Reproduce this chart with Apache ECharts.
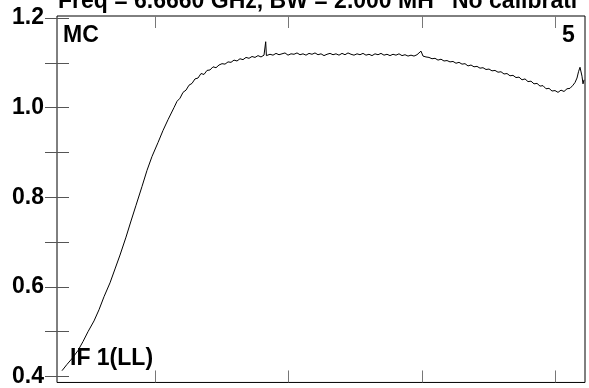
<!DOCTYPE html>
<html><head><meta charset="utf-8">
<script src="https://cdn.jsdelivr.net/npm/echarts@6/dist/echarts.min.js"></script>
<style>html,body{margin:0;padding:0;background:#fff}#c{width:589px;height:388px}</style>
</head><body><div id="c"></div>
<script>
const titleText = "Freq = 6.6660 GHz, BW = 2.000 MH";
const titleText2 = "No calibrati";
const labelTopLeft = "MC";
const labelTopRight = "5";
const labelBottom = "IF 1(LL)";
const yLabelValues = [0.4, 0.6, 0.8, 1.0, 1.2];
const yTickValues = [0.4, 0.5, 0.6, 0.7, 0.8, 0.9, 1.0, 1.1, 1.2];
const xTickValues = [98, 231, 365, 498];

const channels = [
  5,10,15,21,26,31,37,42,47,53,58,63,69,74,79,85,90,95,101,106,111,
  117,120,123,126,129,132,135,138,141,144,147,150,153,156,159,162,165,168,171,174,177,180,183,186,189,192,195,198,201,204,207,
  208,208.7,209.4,213,
  216,219,222,225,228,231,234,237,240,243,246,249,252,255,258,261,264,267,270,273,276,279,282,285,288,291,294,297,300,303,306,309,312,315,318,321,324,327,330,333,336,339,342,345,348,351,354,357,360,
  362,364,366,369,
  372,375,378,381,384,387,390,393,396,399,402,405,408,411,414,417,420,423,426,429,432,435,438,441,444,447,450,453,456,459,462,465,468,471,474,477,480,483,486,489,492,495,498,501,504,507,510,513,516,
  518,520,521.5,523,524,525,526,527
];
const amplitude = [
  0.413,0.427,0.440,0.458,0.478,0.500,0.524,0.549,0.578,0.609,0.640,0.671,0.711,0.747,0.782,0.824,0.860,0.891,0.922,0.949,0.973,
  1.000,1.014,1.021,1.034,1.039,1.050,1.054,1.064,1.066,1.076,1.074,1.083,1.084,1.091,1.089,1.095,1.098,1.097,1.102,1.101,1.106,1.104,1.109,1.107,1.112,1.110,1.114,1.112,1.116,1.113,1.117,
  1.115,1.147,1.116,1.119,
  1.117,1.121,1.118,1.120,1.122,1.117,1.120,1.119,1.122,1.118,
  1.120,1.117,1.121,1.119,1.122,1.118,1.120,1.116,1.119,1.121,
  1.118,1.120,1.117,1.121,1.118,1.122,1.119,1.117,1.120,1.118,
  1.121,1.117,1.119,1.116,1.120,1.118,1.121,1.117,1.119,1.116,
  1.119,1.117,1.120,1.116,1.118,1.115,1.117,1.115,1.118,
  1.117,1.126,1.115,1.113,
  1.112,1.109,1.110,1.106,1.108,1.104,1.105,1.102,1.103,1.099,
  1.101,1.097,1.098,1.093,1.095,1.091,1.092,1.088,1.089,1.085,
  1.086,1.082,1.083,1.079,1.080,1.075,1.076,1.071,1.072,1.067,
  1.068,1.062,1.064,1.058,1.059,1.053,1.054,1.048,1.049,1.042,
  1.043,1.037,1.038,1.034,1.039,1.036,1.042,1.043,1.050,
  1.056,1.066,1.080,1.090,1.088,1.070,1.053,1.062
];

const FONT = "'Liberation Sans', Arial, sans-serif";
const chart = echarts.init(document.getElementById('c'), null, {renderer: 'canvas'});
const xBase = {
  type: 'value', min: 0, max: 528,
  axisLine: {show: false},
  axisTick: {show: true, inside: true, length: 12, customValues: xTickValues, lineStyle: {color: '#777', width: 1}},
  axisLabel: {show: false},
  splitLine: {show: false}
};
const yBase = {
  type: 'value', min: 0.3867, max: 1.2044,
  axisLine: {show: false},
  axisTick: {show: true, inside: true, length: 12, customValues: yTickValues, lineStyle: {color: '#555', width: 1}},
  splitLine: {show: false}
};
chart.setOption({
  animation: false,
  backgroundColor: '#fff',
  grid: {left: 57, right: 4, top: 16, bottom: 4, show: true, borderColor: '#000', borderWidth: 1, backgroundColor: 'transparent'},
  xAxis: [
    Object.assign({}, xBase, {position: 'bottom'}),
    Object.assign({}, xBase, {position: 'top'})
  ],
  yAxis: [
    Object.assign({}, yBase, {position: 'left', axisLabel: {show: true, customValues: yLabelValues, margin: 13, color: '#000', fontSize: 23, fontWeight: 'bold', fontFamily: FONT, formatter: v => v.toFixed(1)}}),
    Object.assign({}, yBase, {position: 'right', axisLabel: {show: false}})
  ],
  series: [{
    type: 'line',
    data: channels.map((c, i) => [c, amplitude[i]]),
    showSymbol: false,
    lineStyle: {color: '#000', width: 1},
    clip: true
  }],
  graphic: [
    {type: 'text', left: 58, top: -10, style: {text: titleText, fontSize: 23, fontWeight: 'bold', fontFamily: FONT, fill: '#000'}},
    {type: 'text', left: 452, top: -10, style: {text: titleText2, fontSize: 23, fontWeight: 'bold', fontFamily: FONT, fill: '#000'}},
    {type: 'text', left: 63, top: 24, style: {text: labelTopLeft, fontSize: 23, fontWeight: 'bold', fontFamily: FONT, fill: '#000'}},
    {type: 'text', left: 562, top: 24, style: {text: labelTopRight, fontSize: 23, fontWeight: 'bold', fontFamily: FONT, fill: '#000'}},
    {type: 'text', left: 70, top: 347, style: {text: labelBottom, fontSize: 23, fontWeight: 'bold', fontFamily: FONT, fill: '#000'}}
  ]
});
</script></body></html>
